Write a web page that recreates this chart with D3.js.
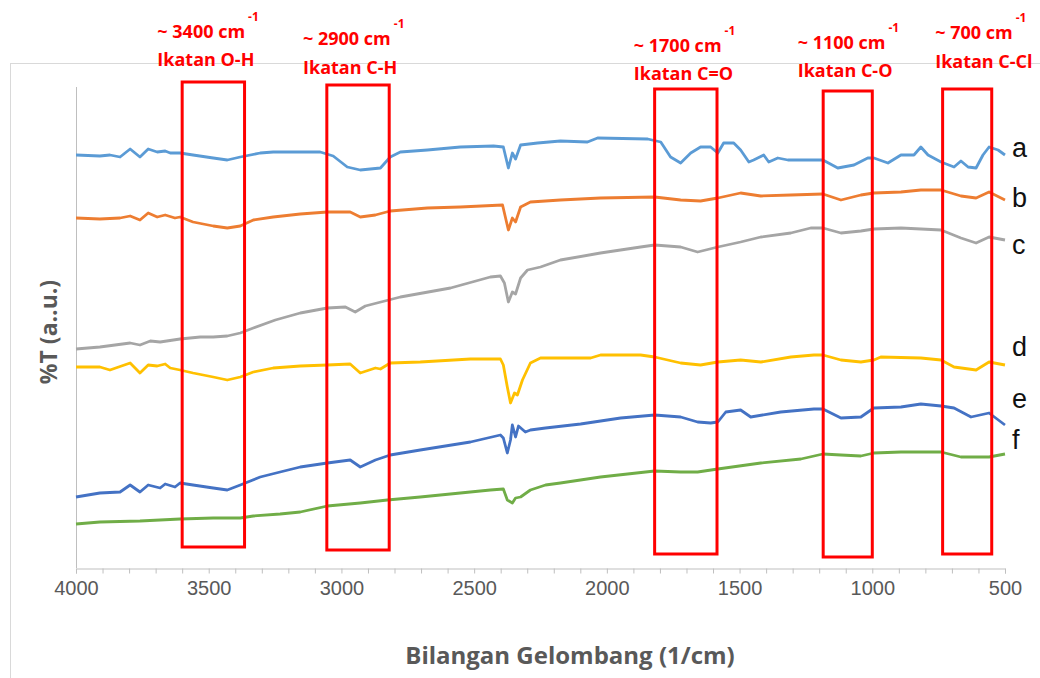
<!DOCTYPE html>
<html>
<head>
<meta charset="utf-8">
<script src="https://cdn.jsdelivr.net/npm/d3@7"></script>
<style>
  body { margin: 0; background: #fff; }
  svg { display: block; }
  text { font-family: "Open Sans", "Liberation Sans", sans-serif; }
</style>
</head>
<body>
<svg id="chart" width="1040" height="678"></svg>
<script>
// FTIR spectra, [wavenumber (1/cm), %T in arbitrary units]
var seriesA = [[4000,413],[3910,412],[3872,413],[3834,411],[3796,419],[3759,411],[3728,419],[3694,416],[3664,417],[3645,415],[3608,415],[3559,413],[3483,410],[3430,408],[3381,411],[3306,415],[3257,416],[3080,416],[3031,412],[2978,401],[2929,398],[2853,400],[2816,411],[2778,416],[2676,418],[2552,421],[2427,422],[2390,421],[2371,400],[2356,415],[2344,409],[2325,423],[2261,425],[2175,427],[2073,426],[2035,430],[1846,429],[1797,426],[1760,411],[1722,405],[1684,415],[1647,421],[1609,421],[1582,415],[1560,425],[1522,425],[1496,418],[1465,406],[1447,408],[1409,413],[1390,406],[1356,410],[1318,408],[1220,408],[1186,408],[1130,400],[1069,403],[1017,410],[994,410],[941,405],[892,413],[843,413],[817,421],[790,413],[741,406],[692,401],[666,407],[639,401],[609,400],[583,413],[560,421],[526,418],[500,413]];
var seriesB = [[4000,350],[3910,349],[3834,350],[3796,352],[3759,348],[3728,355],[3694,351],[3664,353],[3627,350],[3608,351],[3559,346],[3483,342],[3430,340],[3381,342],[3332,348],[3257,351],[3155,354],[3053,356],[2967,356],[2929,351],[2872,353],[2816,357],[2676,360],[2552,361],[2393,363],[2371,338],[2356,350],[2344,346],[2325,361],[2288,366],[2175,368],[2024,370],[1820,371],[1722,368],[1647,367],[1582,370],[1496,375],[1420,372],[1307,373],[1186,374],[1118,368],[1043,373],[994,375],[892,376],[817,378],[741,378],[666,372],[609,370],[560,376],[500,368]];
var seriesC = [[4000,219],[3910,221],[3796,225],[3759,223],[3720,227],[3683,226],[3608,229],[3532,231],[3483,231],[3430,232],[3381,235],[3332,240],[3249,248],[3155,255],[3053,260],[2985,261],[2948,256],[2910,262],[2778,271],[2589,280],[2439,291],[2401,292],[2386,285],[2371,266],[2356,276],[2344,274],[2325,290],[2299,298],[2250,301],[2175,308],[2024,315],[1873,321],[1820,323],[1722,321],[1658,316],[1582,321],[1496,326],[1420,331],[1307,335],[1232,340],[1186,340],[1118,335],[1043,337],[994,339],[892,340],[741,338],[666,330],[609,325],[560,331],[500,328]];
var seriesD = [[4000,201],[3910,201],[3872,198],[3796,205],[3759,195],[3728,203],[3694,202],[3664,204],[3645,200],[3608,198],[3559,195],[3483,191],[3430,188],[3381,191],[3332,196],[3257,200],[3155,202],[3053,203],[2967,204],[2929,195],[2872,200],[2853,199],[2816,205],[2703,206],[2514,209],[2401,209],[2390,203],[2375,181],[2363,165],[2348,175],[2337,173],[2318,188],[2288,205],[2250,210],[2061,210],[2024,213],[1873,213],[1820,211],[1722,205],[1647,203],[1582,206],[1496,208],[1420,206],[1307,211],[1220,213],[1186,213],[1118,208],[1043,206],[994,208],[968,211],[817,210],[741,208],[692,201],[609,198],[560,206],[500,203]];
var seriesE = [[4000,71],[3910,75],[3834,76],[3796,83],[3759,76],[3728,83],[3683,80],[3664,84],[3627,81],[3608,85],[3559,83],[3483,80],[3430,78],[3381,83],[3306,91],[3231,96],[3155,101],[3053,105],[2967,108],[2929,101],[2872,108],[2816,113],[2703,118],[2514,126],[2401,133],[2390,130],[2375,115],[2363,128],[2356,143],[2344,131],[2333,142],[2307,136],[2288,138],[2231,140],[2099,144],[1948,150],[1820,153],[1722,151],[1658,146],[1609,145],[1582,146],[1552,156],[1496,158],[1458,151],[1345,156],[1220,159],[1186,159],[1118,150],[1043,151],[994,160],[892,161],[817,164],[741,162],[692,160],[628,151],[560,155],[500,143]];
var seriesF = [[4000,44],[3910,46],[3759,47],[3608,49],[3483,50],[3381,50],[3332,52],[3231,54],[3155,56],[3053,62],[2929,65],[2827,68],[2703,71],[2552,75],[2439,78],[2390,79],[2375,68],[2356,65],[2344,70],[2325,71],[2288,78],[2231,83],[2175,85],[2024,91],[1820,97],[1722,96],[1658,96],[1582,99],[1420,105],[1269,109],[1186,114],[1118,113],[1043,112],[994,115],[892,116],[741,116],[666,111],[560,111],[500,114]];

var seriesNames = ["a", "b", "c", "d", "e", "f"];
var seriesColors = ["#5b9bd5", "#ed7d31", "#a5a5a5", "#ffc000", "#4472c4", "#70ad47"];
var allSeries = [seriesA, seriesB, seriesC, seriesD, seriesE, seriesF];
// where the letters sit on the %T scale
var nameLevels = [420, 370, 323, 221, 169, 128];

var xTicks = [4000, 3500, 3000, 2500, 2000, 1500, 1000, 500];

// marked absorption bands
var bandRanges = [[3600, 3365], [3055, 2820], [1820, 1585], [1185, 1000], [735, 550]];
var bandTops = [486, 483, 479, 477, 479];
var bandBottoms = [21, 18, 14, 11, 14];
var bandWaves = ["~ 3400 cm", "~ 2900 cm", "~ 1700 cm", "~ 1100 cm", "~ 700 cm"];
var bandBonds = ["Ikatan O-H", "Ikatan C-H", "Ikatan C=O", "Ikatan C-O", "Ikatan C-Cl"];

var svg = d3.select("#chart");
var margin = {left: 76, right: 1005, top: 87, bottom: 568};

var x = d3.scaleLinear().domain([4000, 500]).range([margin.left, margin.right]);
var y = d3.scaleLinear().domain([0, 481]).range([margin.bottom, margin.top]);

// chart border (only top + left show in the crop)
svg.append("rect")
    .attr("x", 10.5).attr("y", 63.5)
    .attr("width", 1100).attr("height", 700)
    .attr("fill", "none").attr("stroke", "#d9d9d9");

// y axis line, no ticks
svg.append("line")
    .attr("x1", margin.left + 0.5).attr("x2", margin.left + 0.5)
    .attr("y1", margin.top).attr("y2", margin.bottom)
    .attr("stroke", "#bfbfbf");

var xAxis = d3.axisBottom(x)
    .tickValues(d3.range(4000, 499, -100))
    .tickSize(5)
    .tickFormat(d => xTicks.indexOf(d) >= 0 ? d : "");

var gx = svg.append("g")
    .attr("transform", "translate(0," + (margin.bottom + 0.5) + ")")
    .call(xAxis);
gx.select(".domain").attr("stroke", "#bfbfbf");
gx.selectAll(".tick line").attr("stroke", "#bfbfbf");
gx.selectAll(".tick text")
    .attr("y", 26)
    .attr("dy", 0)
    .attr("fill", "#595959")
    .style("font-family", "'Liberation Sans', sans-serif")
    .style("font-size", "20px");

svg.append("text")
    .attr("x", 570).attr("y", 664)
    .attr("text-anchor", "middle")
    .attr("fill", "#595959")
    .style("font-size", "24px").style("font-weight", "bold")
    .text("Bilangan Gelombang (1/cm)");

svg.append("text")
    .attr("transform", "translate(57,332) rotate(-90)")
    .attr("text-anchor", "middle")
    .attr("fill", "#595959")
    .style("font-size", "23px").style("font-weight", "bold")
    .text("%T (a..u.)");

var line = d3.line()
    .x(d => x(d[0]))
    .y(d => y(d[1]));

svg.append("g").selectAll("path")
    .data(allSeries)
    .enter()
    .append("path")
    .attr("d", line)
    .attr("fill", "none")
    .attr("stroke", (d, i) => seriesColors[i])
    .attr("stroke-width", 2.8)
    .attr("stroke-linejoin", "round");

svg.append("g").selectAll("text")
    .data(seriesNames)
    .enter()
    .append("text")
    .attr("x", 1012)
    .attr("y", (d, i) => y(nameLevels[i]))
    .attr("dy", "0.35em")
    .attr("fill", "#111")
    .style("font-family", "'Liberation Sans', sans-serif")
    .style("font-size", "27px")
    .text(d => d);

// red boxes with labels
var bands = svg.append("g").selectAll("g")
    .data(bandRanges)
    .enter()
    .append("g");

bands.append("rect")
    .attr("x", d => x(d[0]))
    .attr("y", (d, i) => y(bandTops[i]))
    .attr("width", d => x(d[1]) - x(d[0]))
    .attr("height", (d, i) => y(bandBottoms[i]) - y(bandTops[i]))
    .attr("fill", "none")
    .attr("stroke", "#ff0000")
    .attr("stroke-width", 3);

// [left edge from box centre, bond line above box, wavenumber line above box]
var labelShift = [[-56, 22, 50], [-55, 17, 46], [-52, 15, 43], [-50, 20, 48], [-32, 27, 56]];

function boxMid(d) { return (x(d[0]) + x(d[1])) / 2; }

bands.append("text")
    .attr("x", (d, i) => boxMid(d) + labelShift[i][0])
    .attr("y", (d, i) => y(bandTops[i]) - labelShift[i][1])
    .attr("dy", "0.35em")
    .attr("fill", "#ff0000")
    .style("font-size", "18px").style("font-weight", "bold")
    .text((d, i) => bandBonds[i]);

var waveText = bands.append("text")
    .attr("x", (d, i) => boxMid(d) + labelShift[i][0])
    .attr("y", (d, i) => y(bandTops[i]) - labelShift[i][2])
    .attr("dy", "0.35em")
    .attr("fill", "#ff0000")
    .style("font-size", "18px").style("font-weight", "bold");

waveText.append("tspan").text((d, i) => bandWaves[i]);
waveText.append("tspan")
    .attr("dy", "-17")
    .attr("dx", "3")
    .style("font-size", "12px")
    .text("-1");
</script>
</body>
</html>
